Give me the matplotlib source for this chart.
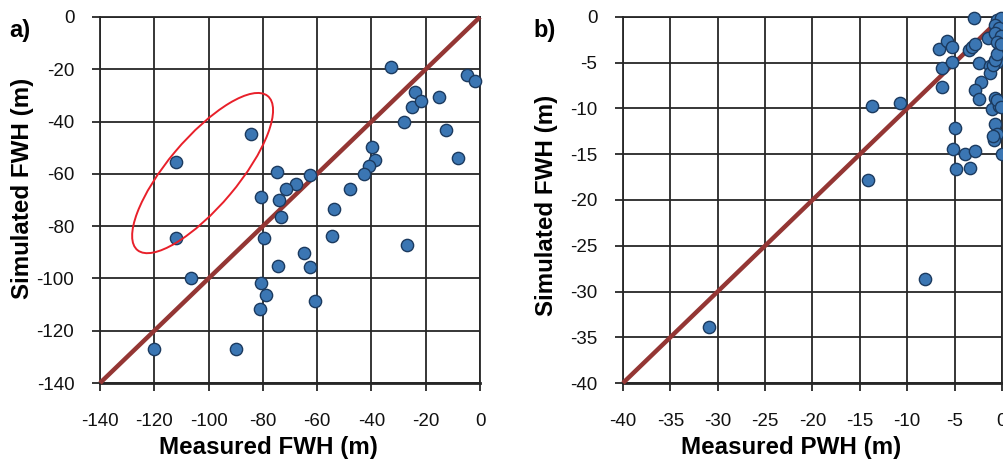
import matplotlib
matplotlib.use("Agg")
import matplotlib.pyplot as plt
from matplotlib.patches import Ellipse
import numpy as np

plt.rcParams['font.family'] = ['Liberation Sans', 'DejaVu Sans']
plt.rcParams['axes.unicode_minus'] = False

# ---- Panel a: FWH ----
fwh_measured = [-112.1, -84.5, -32.8, -4.7, -1.8, -23.8, -24.9, -21.7, -15.0, -28.0,
                -12.5, -8.0, -39.8, -38.7, -40.8, -42.6, -47.8, -53.7, -54.6, -62.5,
                -67.7, -71.4, -74.8, -74.0, -73.3, -80.8, -79.6, -112.1, -26.8, -64.8,
                -74.4, -62.5, -106.5, -80.8, -78.7, -60.8, -81.2, -120.2, -89.8]
fwh_simulated = [-55.5, -44.9, -19.1, -22.0, -24.5, -28.6, -34.3, -32.0, -30.7, -40.2,
                 -43.1, -53.8, -49.6, -54.6, -56.9, -60.1, -65.8, -73.5, -83.7, -60.4,
                 -63.9, -65.8, -59.3, -70.0, -76.4, -68.9, -84.7, -84.4, -87.2, -90.4,
                 -95.4, -95.8, -99.8, -101.6, -106.3, -108.5, -111.6, -126.8, -126.8]
fwh_ticks = [-140, -120, -100, -80, -60, -40, -20, 0]

# ---- Panel b: PWH ----
pwh_measured = [-13.7, -10.8, -14.1, -30.9, -8.1,
                -2.96, -6.7, -5.8, -5.3, -6.3, -5.3, -6.3,
                -3.45, -3.2, -2.85, -2.4, -1.27, -1.27, -2.25, -2.85, -2.4,
                -0.74, -1.1, -0.3, -0.5, -0.7, -0.5, -0.85, -0.9,
                -5.0, -5.2, -4.9, -3.9, -2.9, -3.4, -0.03,
                -1.45, -0.2, -0.4, -0.56, -1.0, -0.7, -0.5,
                -0.5, -0.15, -0.7, -0.3, -0.7, -0.15, -0.5, -0.15, -0.15]
pwh_simulated = [-9.7, -9.4, -17.8, -33.9, -28.6,
                 -0.1, -3.45, -2.6, -3.3, -5.6, -4.9, -7.6,
                 -3.6, -3.3, -3.0, -5.05, -5.4, -6.1, -7.1, -8.0, -9.0,
                 -8.9, -10.1, -9.7, -9.05, -11.7, -12.8, -13.4, -13.0,
                 -12.1, -14.4, -16.6, -15.0, -14.6, -16.5, -15.0,
                 -2.3, -3.5, -4.1, -4.9, -5.2, -4.7, -4.0,
                 -0.3, -0.15, -0.9, -1.2, -1.8, -2.1, -2.7, -2.9, -9.8]
pwh_ticks = [-40, -35, -30, -25, -20, -15, -10, -5, 0]

FILL = '#3B76B3'
EDGE = '#1B3A5F'
LINE = '#943634'
GRID = '#262626'

fig = plt.figure(figsize=(10.04, 4.68), dpi=100)
axA = fig.add_axes([0.0996, 0.1816, 0.3785, 0.7821])
axB = fig.add_axes([0.6205, 0.1816, 0.3775, 0.7821])


def style(ax, ticks, xlabel, ylabel, xlab_x, ylab_x, ylab_y):
    lo, hi = ticks[0], ticks[-1]
    ax.set_xlim(lo, hi)
    ax.set_ylim(lo, hi)
    ax.set_xticks(ticks)
    ax.set_yticks(ticks)
    ax.set_xticklabels([str(t) for t in ticks])
    ax.set_yticklabels([str(t) for t in ticks])
    ax.grid(True, color=GRID, linewidth=1.3)
    ax.set_axisbelow(True)
    for s in ax.spines.values():
        s.set_color(GRID)
        s.set_linewidth(1.3)
    ax.spines['bottom'].set_linewidth(2.0)
    ax.tick_params(axis='both', direction='out', length=5.5, width=1.3,
                   color=GRID, labelsize=13.5, labelcolor='#111111')
    ax.tick_params(axis='x', pad=16)
    ax.tick_params(axis='y', pad=13)
    ax.set_xlabel(xlabel, fontsize=17.4, fontweight='bold', va='center')
    ax.set_ylabel(ylabel, fontsize=17.4, fontweight='bold', va='center')
    ax.xaxis.set_label_coords(xlab_x, -0.175)
    ax.yaxis.set_label_coords(ylab_x, ylab_y)


for ax, ticks, xs, ys, xl, yl, lxx, lx, ly in [
        (axA, fwh_ticks, fwh_measured, fwh_simulated, 'Measured FWH (m)', 'Simulated FWH (m)', 0.442, -0.205, 0.533),
        (axB, pwh_ticks, pwh_measured, pwh_simulated, 'Measured PWH (m)', 'Simulated FWH (m)', 0.443, -0.203, 0.484)]:
    style(ax, ticks, xl, yl, lxx, lx, ly)
    ax.plot([ticks[0], ticks[-1]], [ticks[0], ticks[-1]], color=LINE, linewidth=3.2,
            solid_capstyle='butt', zorder=3, clip_on=False)
    ax.scatter(xs, ys, s=78, facecolor=FILL, edgecolor=EDGE, linewidth=1.0,
               zorder=4, clip_on=False)

axA.add_patch(Ellipse((-102.2, -59.7), width=76, height=26, angle=51,
                      fill=False, edgecolor='#E8202A', linewidth=1.4, zorder=5))

fig.text(20 / 1004, 1 - 30 / 468, 'a)', fontsize=17, fontweight='bold', ha='center', va='center')
fig.text(545 / 1004, 1 - 30 / 468, 'b)', fontsize=17, fontweight='bold', ha='center', va='center')

fig.savefig('out.png', dpi=100)
